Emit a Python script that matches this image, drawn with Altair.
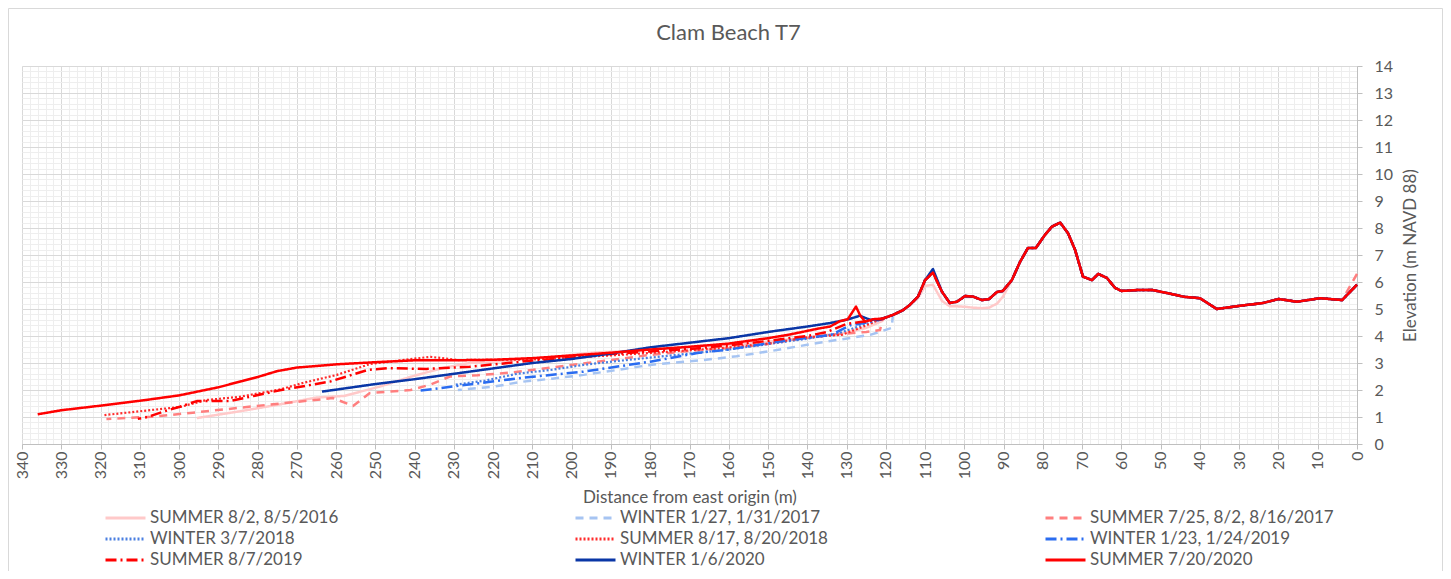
import altair as alt
import pandas as pd

NAMES = ["SUMMER 8/2, 8/5/2016", "WINTER 1/27, 1/31/2017", "SUMMER 7/25, 8/2, 8/16/2017",
         "WINTER 3/7/2018", "SUMMER 8/17, 8/20/2018", "WINTER 1/23, 1/24/2019",
         "SUMMER 8/7/2019", "WINTER 1/6/2020", "SUMMER 7/20/2020"]
COLORS = ["#FFC9C9", "#A6C4F2", "#FF7F7F", "#4A7FE0", "#FF2B2B", "#2A6CF0", "#FF0000", "#0A36A6", "#FF0000"]
DASHES = [[1, 0], [8, 6], [8, 6], [2, 2], [2, 2], [11, 4, 2, 4], [11, 4, 2, 4], [1, 0], [1, 0]]
WIDTHS = [2.5, 2.5, 2.5, 2.2, 2.2, 2.5, 2.5, 2.5, 2.5]

# shared dune / foredune profile (distance m, elevation m)
DUNE_D = [0, 3.8, 9.4, 15.3, 20, 24, 29.8, 35.7, 40, 44, 48, 52, 56, 60, 61.6, 63.7, 65.9, 67.5,
          69.8, 71.8, 73.6, 75.6, 77.7, 79.5, 81.8, 83.8, 85.8, 87.9, 90.2, 91.7, 93.7, 95.5, 97.8,
          99.8, 101.9, 103.7, 105.7, 108, 110, 111.8, 113.9, 115.6, 118.2, 120.7]
DUNE_E = [5.9, 5.33, 5.4, 5.27, 5.37, 5.22, 5.12, 5.0, 5.4, 5.45, 5.58, 5.7, 5.7, 5.67, 5.78, 6.15, 6.3, 6.07,
          6.2, 7.19, 7.81, 8.2, 8.05, 7.74, 7.26, 7.26, 6.75, 6.07, 5.67, 5.63, 5.37, 5.33, 5.46,
          5.48, 5.27, 5.22, 5.64, 6.35, 6.07, 5.46, 5.15, 4.96, 4.78, 4.65]

S16_D = [295.5, 285, 275, 265, 258, 249, 241, 233, 226, 215, 205, 195, 185, 175, 165, 155, 146, 138, 131, 125, 121]
S16_E = [0.96, 1.2, 1.45, 1.72, 1.78, 2.12, 2.49, 2.81, 3.0, 3.1, 3.22, 3.38, 3.45, 3.55, 3.62, 3.72, 3.85, 3.98, 4.1, 4.3, 4.55]
S16_DUNE_D = [90.2, 91.7, 93.7, 95.5, 97.8, 99.8, 101.9, 103.7, 105.7, 108, 110, 111.8]
S16_DUNE_E = [5.45, 5.2, 5.05, 5.03, 5.05, 5.08, 5.1, 5.1, 5.3, 5.9, 5.85, 5.4]

W17_D = [229, 220, 213, 205, 197, 188, 180, 167, 158, 149, 137, 124, 118.5]
W17_E = [2.0, 2.12, 2.3, 2.42, 2.56, 2.75, 2.93, 3.1, 3.25, 3.45, 3.75, 4.04, 4.3]

S17_D = [318.5, 306.7, 296.5, 285.3, 274.3, 266, 260.8, 255.7, 251.4, 241, 236, 231, 224, 215, 204,
         188, 180, 170, 160, 150, 144.4, 134, 125, 121.5]
S17_E = [0.93, 1.01, 1.16, 1.33, 1.5, 1.62, 1.7, 1.41, 1.89, 2.0, 2.2, 2.5, 2.55, 2.65, 2.85,
         3.15, 3.3, 3.45, 3.55, 3.7, 3.85, 4.05, 4.15, 4.22]
S17_DUNE_D = [0]
S17_DUNE_E = [6.3]

W18_D = [230, 222, 214, 205, 197, 188, 180, 170, 160, 150, 140, 132, 124, 121.5]
W18_E = [2.19, 2.35, 2.6, 2.75, 2.93, 3.08, 3.2, 3.35, 3.5, 3.7, 3.9, 4.1, 4.5, 4.6]

S18_D = [319, 310.8, 299.8, 293, 284.5, 274, 268.5, 259.8, 251.4, 241.2, 236, 229, 220, 210, 200,
         187.7, 175, 162, 150, 140, 131, 124, 121]
S18_E = [1.07, 1.2, 1.37, 1.63, 1.75, 2.03, 2.26, 2.56, 2.96, 3.14, 3.23, 3.11, 3.12, 3.13, 3.2,
         3.3, 3.42, 3.55, 3.72, 3.95, 4.05, 4.45, 4.65]

W19_D = [238.7, 235, 222.6, 212, 197, 180, 168, 160, 147, 134, 129, 126.6, 121]
W19_E = [1.98, 2.04, 2.27, 2.46, 2.68, 3.05, 3.37, 3.5, 3.8, 4.04, 4.4, 4.45, 4.62]

S19_D = [310.5, 308, 304, 299.8, 295.5, 287, 281, 274, 261.6, 252, 247, 237, 226, 210.6, 200, 190,
         180, 170, 160, 150, 140, 135, 130, 125, 121]
S19_E = [0.93, 1.0, 1.2, 1.38, 1.59, 1.59, 1.78, 2.0, 2.31, 2.74, 2.81, 2.78, 2.86, 3.08, 3.2, 3.33,
         3.43, 3.52, 3.65, 3.82, 4.0, 4.15, 4.45, 4.55, 4.62]

W20_D = [263.6, 250, 240, 230, 220, 210, 200, 190, 180, 170, 160, 149.5, 140, 134.2, 130, 126.6, 124, 121.5]
W20_E = [1.94, 2.22, 2.4, 2.6, 2.8, 3.0, 3.15, 3.35, 3.58, 3.75, 3.92, 4.16, 4.35, 4.48, 4.6, 4.75, 4.6, 4.62]
W20_DUNE_D = [108]
W20_DUNE_E = [6.48]

S20_D = [336, 330, 320, 310, 300, 290, 280, 275, 270, 260, 250, 240, 230, 220, 210, 200, 190, 180,
         170, 160, 150, 145, 141, 137, 134.2, 131.7, 129.7, 127.6, 126.6, 125.3, 123.3]
S20_E = [1.1, 1.25, 1.42, 1.6, 1.8, 2.1, 2.48, 2.7, 2.83, 2.95, 3.03, 3.1, 3.1, 3.12, 3.18, 3.28, 3.38, 3.5,
         3.6, 3.72, 3.92, 4.04, 4.16, 4.28, 4.35, 4.55, 4.62, 5.09, 4.78, 4.53, 4.62]

BEACH = [(S16_D, S16_E, S16_DUNE_D, S16_DUNE_E), (W17_D, W17_E, [], []), (S17_D, S17_E, S17_DUNE_D, S17_DUNE_E),
         (W18_D, W18_E, [], []), (S18_D, S18_E, [], []), (W19_D, W19_E, [], []),
         (S19_D, S19_E, [], []), (W20_D, W20_E, W20_DUNE_D, W20_DUNE_E), (S20_D, S20_E, [], [])]

rows = []
for name, (bd, be, od, oe) in zip(NAMES, BEACH):
    over = dict(zip(od, oe))
    start = min(bd)
    for d, e in zip(bd, be):
        rows.append({"series": name, "dist": d, "elev": e})
    for d, e in zip(DUNE_D, DUNE_E):
        if d < start:
            rows.append({"series": name, "dist": d, "elev": over.get(d, e)})
df = pd.DataFrame(rows)

TXT = "#595959"
FONT = "Lato"
xscale = alt.Scale(domain=[0, 340], reverse=True, nice=False, zero=False)
yscale = alt.Scale(domain=[0, 14], nice=False, zero=True)

x_major = alt.Axis(values=list(range(0, 341, 10)), orient="bottom", labelAngle=270, format="d", labelFont=FONT,
                   labelFontSize=16, labelColor=TXT, tickColor="#BFBFBF", tickSize=5, labelPadding=2,
                   domainColor="#BFBFBF", grid=True, gridColor="#D9D9D9", labelOverlap=False,
                   labelFlush=False, title="Distance from east origin (m)", titleFont=FONT,
                   titleFontSize=17, titleFontWeight="normal", titleColor=TXT, titlePadding=11)
x_minor = alt.Axis(values=list(range(0, 341, 2)), orient="bottom", grid=True, gridColor="#EEEEEE", labels=False,
                   ticks=False, domain=False, title=None)
y_major = alt.Axis(values=list(range(0, 15)), orient="right", labelFont=FONT, labelFontSize=16,
                   labelColor=TXT, tickColor="#BFBFBF", tickSize=5, labelPadding=12,
                   domainColor="#BFBFBF", grid=True, gridColor="#D9D9D9", labelFlush=False,
                   title="Elevation (m NAVD 88)", titleFont=FONT, titleFontSize=17,
                   titleFontWeight="normal", titleColor=TXT, titleAngle=270, titleBaseline="top",
                   titlePadding=10)
y_minor = alt.Axis(values=[round(i * 0.2, 1) for i in range(71)], orient="right", grid=True,
                   gridColor="#EEEEEE", labels=False, ticks=False, domain=False, title=None)

leg = alt.Legend(orient="none", legendX=82, legendY=442, direction="horizontal", columns=3,
                 columnPadding=180, rowPadding=1, clipHeight=20,
                 symbolType="stroke", symbolSize=1600, symbolStrokeWidth=3, labelFont=FONT,
                 labelFontSize=17, labelColor=TXT, labelLimit=400, gridAlign="all", labelOffset=3,
                 padding=0, title=None)

border = alt.Chart(alt.Data(values=[{"a": 1}])).mark_rect(
    fill="transparent", stroke="#D9D9D9", strokeWidth=1
).encode(x=alt.value(-13.5), x2=alt.value(1420.5), y=alt.value(-57.5), y2=alt.value(515))

minor = alt.Chart(df).mark_point(opacity=0).encode(
    x=alt.X("dist:Q", scale=xscale, axis=x_minor),
    y=alt.Y("elev:Q", scale=yscale, axis=y_minor),
)

layers = []
for name, w in zip(NAMES, WIDTHS):
    layers.append(
        alt.Chart(df).transform_filter(alt.FieldEqualPredicate(field="series", equal=name))
        .mark_line(strokeWidth=w, strokeJoin="round")
        .encode(
            x=alt.X("dist:Q", scale=xscale, axis=x_major),
            y=alt.Y("elev:Q", scale=yscale, axis=y_major),
            color=alt.Color("series:N", scale=alt.Scale(domain=NAMES, range=COLORS), legend=leg),
            strokeDash=alt.StrokeDash("series:N", scale=alt.Scale(domain=NAMES, range=DASHES), legend=leg),
            order=alt.Order("dist:Q"),
        )
    )
inner = alt.layer(*layers)

chart = alt.layer(border, minor, inner).resolve_axis(x="independent", y="independent").properties(
    width=1335, height=378,
    autosize=alt.AutoSizeParams(type="none"),
    padding={"left": 14, "top": 58, "right": 86, "bottom": 127},
    title=alt.TitleParams(text="Clam Beach T7", fontSize=22, font=FONT, fontWeight="normal",
                          color=TXT, offset=0, dy=37, dx=39, anchor="middle"),
).configure_view(stroke="transparent").configure(background="white")

chart.save("out.html", embed_options={"renderer": "svg", "actions": False})
